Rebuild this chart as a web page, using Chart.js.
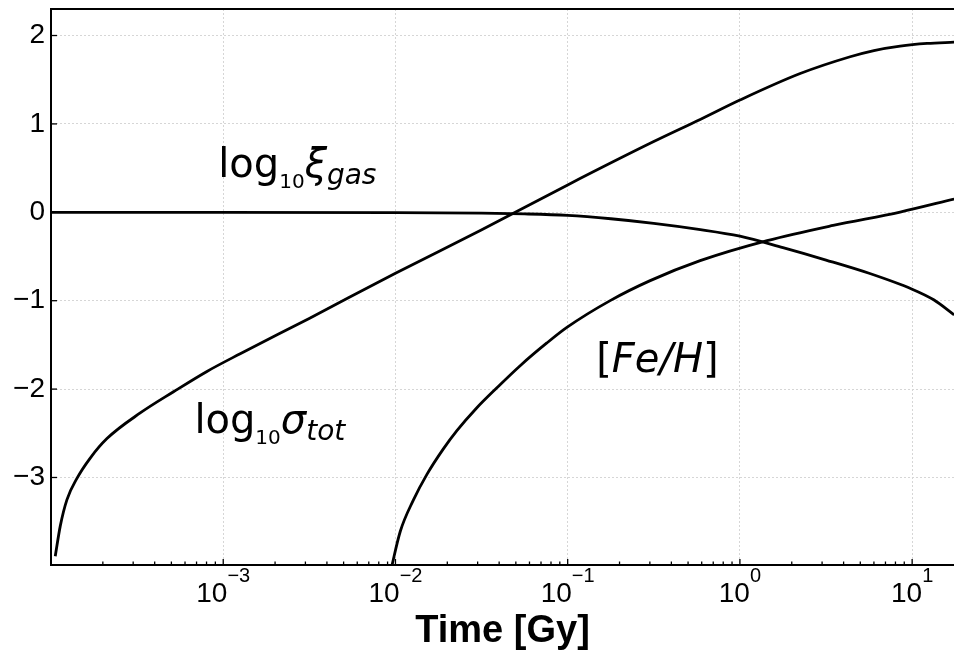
<!DOCTYPE html>
<html>
<head>
<meta charset="utf-8">
<script src="https://cdn.jsdelivr.net/npm/chart.js@4.4.1/dist/chart.umd.min.js"></script>
<style>
  html, body { margin: 0; padding: 0; background: #fff; overflow: hidden; }
  #grafico { display: block; }
</style>
</head>
<body>
<canvas id="grafico" width="954" height="652"></canvas>
<script>
// --- datos (tiempo en Gy, valores en dex) ---
const xiTime   = [1e-4, 1e-3, 0.01, 0.0316, 0.0562, 0.1, 0.178, 0.316, 0.562, 1.0, 1.778, 3.162, 5.623, 10, 13.34, 17.53];
const xiValues = [0, 0, -0.003, -0.01, -0.018, -0.035, -0.073, -0.125, -0.19, -0.27, -0.40, -0.54, -0.69, -0.87, -0.99, -1.16];

const sigmaTime   = [1.0585e-4, 1.1316e-4, 1.238e-4, 1.4144e-4, 1.6896e-4, 2.1128e-4, 3.2967e-4, 5.1441e-4,
                     8.0431e-4, 1.255e-3, 3.157e-3, 0.01, 0.0315, 0.1, 0.316, 0.588, 1.0, 2.238, 4.366,
                     6.0, 8.517, 12.22, 17.53];
const sigmaValues = [-3.89, -3.55, -3.25, -3.01, -2.78, -2.56, -2.27, -2.03,
                     -1.80, -1.60, -1.20, -0.69, -0.20, 0.31, 0.80, 1.05, 1.27, 1.57, 1.76,
                     1.83, 1.88, 1.91, 1.925];

const feTime   = [0.0094, 0.01066, 0.01268, 0.01523, 0.01893, 0.02274, 0.02943, 0.03882, 0.05298, 0.07571,
                  0.09894, 0.1765, 0.3013, 0.5877, 1.439, 3.478, 8.517, 17.53];
const feValues = [-4.05, -3.611, -3.259, -2.965, -2.679, -2.47, -2.219, -1.985, -1.735, -1.478,
                  -1.302, -0.999, -0.773, -0.547, -0.32, -0.148, 0.003, 0.15];

const xTickValues = [1e-3, 1e-2, 1e-1, 1, 10];
const xTickExponents = ['\u22123', '\u22122', '\u22121', '0', '1'];
const yTickValues = [-3, -2, -1, 0, 1, 2];

// etiquetas dentro del grafico: posicion en coordenadas de datos
const etiquetas = [
  { t: 9.35e-4, v: 0.40, partes: [
      { txt: 'log', size: 40 }, { txt: '10', size: 20, dy: 11 },
      { txt: '\u03BE', size: 40, italic: true }, { txt: 'gas', size: 28, italic: true, dy: 7 } ] },
  { t: 6.8e-4, v: -2.495, partes: [
      { txt: 'log', size: 40 }, { txt: '10', size: 20, dy: 11 },
      { txt: '\u03C3', size: 40, italic: true }, { txt: 'tot', size: 28, italic: true, dy: 7 } ] },
  { t: 0.1464, v: -1.805, partes: [
      { txt: '[', size: 40 }, { txt: 'Fe/H', size: 40, italic: true }, { txt: ']', size: 40 } ] }
];

const aPuntos = (ts, vs) => ts.map((t, i) => ({ x: t, y: vs[i] }));

const estiloLinea = {
  borderColor: '#000',
  borderWidth: 2.8,
  pointRadius: 0,
  fill: false,
  cubicInterpolationMode: 'monotone'
};

const decoracionEjes = {
  id: 'decoracionEjes',
  afterDatasetsDraw(chart) {
    const { ctx, scales } = chart;
    ctx.save();
    ctx.fillStyle = '#000';
    ctx.textBaseline = 'alphabetic';
    ctx.textAlign = 'left';
    etiquetas.forEach(et => {
      let px = scales.x.getPixelForValue(et.t);
      const py = scales.y.getPixelForValue(et.v);
      et.partes.forEach(p => {
        ctx.font = (p.italic ? 'italic ' : '') + p.size + 'px "DejaVu Sans"';
        ctx.fillText(p.txt, px, py + (p.dy || 0));
        px += ctx.measureText(p.txt).width;
      });
    });
    ctx.restore();
  },
  afterDraw(chart) {
    const { ctx, chartArea: a, scales: { x, y } } = chart;
    const linea = (x1, y1, x2, y2) => { ctx.beginPath(); ctx.moveTo(x1, y1); ctx.lineTo(x2, y2); ctx.stroke(); };
    ctx.save();
    ctx.strokeStyle = '#000';
    ctx.lineWidth = 2;
    linea(a.left - 1, a.top, a.right, a.top);

    ctx.lineWidth = 1.3;
    yTickValues.forEach(v => {
      const py = y.getPixelForValue(v);
      linea(a.left, py, a.left + 6, py);
    });
    for (let e = -4; e <= 1; e++) {
      for (let m = 1; m <= 9; m++) {
        const val = m * Math.pow(10, e);
        if (val < x.min || val > x.max) continue;
        const px = x.getPixelForValue(val);
        linea(px, a.bottom, px, a.bottom - (m === 1 ? 6 : 3.5));
      }
    }

    // etiquetas del eje x: 10 con exponente
    ctx.fillStyle = '#000';
    ctx.textBaseline = 'alphabetic';
    ctx.textAlign = 'left';
    xTickValues.forEach((val, i) => {
      const px = x.getPixelForValue(val);
      ctx.font = '28px "Liberation Sans", Arial, sans-serif';
      const w1 = ctx.measureText('10').width;
      ctx.font = '20px "Liberation Sans", Arial, sans-serif';
      const w2 = ctx.measureText(xTickExponents[i]).width;
      const izq = px - (w1 + w2) / 2;
      ctx.font = '28px "Liberation Sans", Arial, sans-serif';
      ctx.fillText('10', izq, 602);
      ctx.font = '20px "Liberation Sans", Arial, sans-serif';
      ctx.fillText(xTickExponents[i], izq + w1, 582);
    });
    ctx.restore();
  }
};

const ctxGrafico = document.getElementById('grafico').getContext('2d');
new Chart(ctxGrafico, {
  type: 'line',
  data: {
    datasets: [
      { ...estiloLinea, label: 'xi_gas', data: aPuntos(xiTime, xiValues) },
      { ...estiloLinea, label: 'sigma_tot', data: aPuntos(sigmaTime, sigmaValues) },
      { ...estiloLinea, label: 'Fe/H', data: aPuntos(feTime, feValues) }
    ]
  },
  options: {
    responsive: false,
    animation: false,
    layout: { padding: { top: 9, left: 0, right: 0, bottom: 0 } },
    plugins: { legend: { display: false }, tooltip: { enabled: false } },
    scales: {
      x: {
        type: 'logarithmic',
        min: 1e-4,
        max: 17.5,
        afterBuildTicks: s => { s.ticks = xTickValues.map(v => ({ value: v })); },
        afterFit: s => { s.height = 87; s.paddingLeft = 0; s.paddingRight = 0; },
        ticks: { display: false },
        grid: { color: '#d6d6d6', lineWidth: 1, drawTicks: false },
        border: { display: true, color: '#000', width: 2, dash: [2, 2] },
        title: {
          display: true,
          text: 'Time [Gy]',
          color: '#000',
          font: { family: '"Liberation Sans", Arial, sans-serif', size: 38, weight: 'bold', lineHeight: 1.1 },
          padding: 0
        }
      },
      y: {
        type: 'linear',
        min: -3.99,
        max: 2.3,
        afterBuildTicks: s => { s.ticks = yTickValues.map(v => ({ value: v })); },
        afterFit: s => { s.width = 51; s.paddingTop = 0; s.paddingBottom = 0; },
        ticks: {
          color: '#000',
          padding: 6,
          font: { family: '"Liberation Sans", Arial, sans-serif', size: 28 },
          callback: v => v < 0 ? '\u2212' + Math.abs(v) : String(v)
        },
        grid: { color: '#d6d6d6', lineWidth: 1, drawTicks: false },
        border: { display: true, color: '#000', width: 2, dash: [2, 2] }
      }
    }
  },
  plugins: [decoracionEjes]
});
</script>
</body>
</html>
